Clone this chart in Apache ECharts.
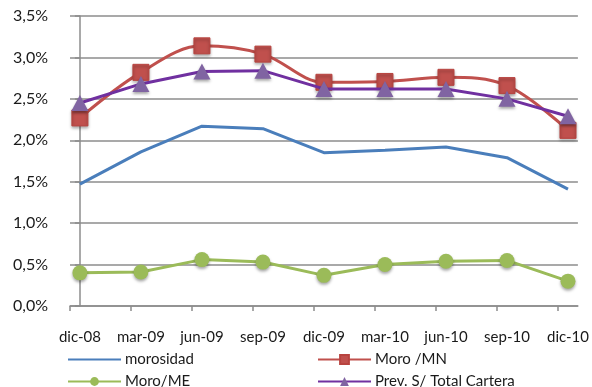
<!DOCTYPE html>
<html>
<head>
<meta charset="utf-8">
<script src="https://cdn.jsdelivr.net/npm/echarts@6/dist/echarts.min.js"></script>
<style>
  html, body { margin: 0; padding: 0; background: #fff; }
  #chart { width: 592px; height: 387px; }
</style>
</head>
<body>
<div id="chart"></div>
<script>
// Quarterly categories
const categories = ['dic-08', 'mar-09', 'jun-09', 'sep-09', 'dic-09', 'mar-10', 'jun-10', 'sep-10', 'dic-10'];

// Series values, in percent
const morosidad = [1.47, 1.86, 2.17, 2.14, 1.85, 1.88, 1.92, 1.79, 1.41];
const moroMN    = [2.27, 2.82, 3.14, 3.04, 2.70, 2.71, 2.76, 2.66, 2.12];
const moroME    = [0.40, 0.41, 0.56, 0.53, 0.37, 0.50, 0.54, 0.55, 0.30];
const prevTotal = [2.45, 2.68, 2.83, 2.84, 2.62, 2.62, 2.62, 2.50, 2.29];

// Y axis ticks
const yMin = 0, yMax = 3.5, yStep = 0.5;

const FONT = 'Lato, "Open Sans", sans-serif';
const pad = 0.1623; // category offset from the tick marks
const pts = arr => arr.map((v, i) => [i, v]);

const chart = echarts.init(document.getElementById('chart'), null, { renderer: 'canvas' });

const shadow = { shadowBlur: 3, shadowColor: 'rgba(0,0,0,0.35)', shadowOffsetY: 2 };

// one legend entry per slot: two columns, two rows
function legendAt(item, left, top) {
  return {
    data: [item], left: left, top: top,
    itemWidth: 53, itemHeight: 11, padding: 0,
    textStyle: { color: '#1a1a1a', fontFamily: FONT, fontSize: 15, padding: [0, 0, 0, -1] }
  };
}

chart.setOption({
  animation: false,
  backgroundColor: '#fff',
  grid: { left: 70, right: 9, top: 16, bottom: 81, containLabel: false },
  xAxis: {
    type: 'value',
    min: -pad,
    max: categories.length - 1 + pad,
    interval: 1,
    splitLine: { show: false },
    axisLine: { show: true, onZero: false, lineStyle: { color: '#8c8c8c', width: 1.5 } },
    axisTick: {
      show: true, length: 5, inside: false,
      customValues: categories.map((c, i) => i - pad),
      lineStyle: { color: '#8c8c8c', width: 1.5 }
    },
    axisLabel: {
      customValues: categories.map((c, i) => i),
      formatter: v => categories[Math.round(v)],
      color: '#1a1a1a', fontFamily: FONT, fontSize: 15, margin: 24
    }
  },
  yAxis: {
    type: 'value',
    min: yMin, max: yMax, interval: yStep,
    axisLine: { show: true, lineStyle: { color: '#8c8c8c', width: 1.5 } },
    axisTick: { show: true, length: 5, lineStyle: { color: '#8c8c8c', width: 1.5 } },
    splitLine: { show: true, lineStyle: { color: '#8c8c8c', width: 1.5 } },
    axisLabel: {
      formatter: v => v.toFixed(1).replace('.', ',') + '%',
      color: '#1a1a1a', fontFamily: FONT, fontSize: 16, margin: 22
    }
  },
  legend: [
    legendAt({ name: 'morosidad', itemStyle: { color: 'rgba(0,0,0,0)', borderWidth: 0, shadowBlur: 0 } }, 67, 352),
    legendAt('Moro/ME', 67, 374),
    legendAt('Moro /MN', 317, 352),
    legendAt('Prev. S/ Total Cartera', 317, 374)
  ],
  series: [
    {
      name: 'morosidad', type: 'line', data: pts(morosidad),
      symbol: 'none', showSymbol: false,
      lineStyle: { color: '#4a7ebb', width: 3 },
      itemStyle: { color: '#4a7ebb' }, z: 2
    },
    {
      name: 'Moro /MN', type: 'line', data: pts(moroMN),
      smooth: 0.35,
      symbol: 'rect', symbolSize: 16,
      lineStyle: { color: '#c0504d', width: 3 },
      itemStyle: Object.assign({ color: '#c0504d', borderColor: '#b8433f', borderWidth: 1 }, shadow), z: 3
    },
    {
      name: 'Moro/ME', type: 'line', data: pts(moroME),
      symbol: 'circle', symbolSize: 15,
      lineStyle: { color: '#9bbb59', width: 3 },
      itemStyle: Object.assign({ color: '#9bbb59' }, shadow), z: 3
    },
    {
      name: 'Prev. S/ Total Cartera', type: 'line', data: pts(prevTotal),
      symbol: 'triangle', symbolSize: [17, 16],
      lineStyle: { color: '#7030a0', width: 3 },
      itemStyle: Object.assign({ color: '#8064a2' }, shadow), z: 4
    }
  ]
});
</script>
</body>
</html>
